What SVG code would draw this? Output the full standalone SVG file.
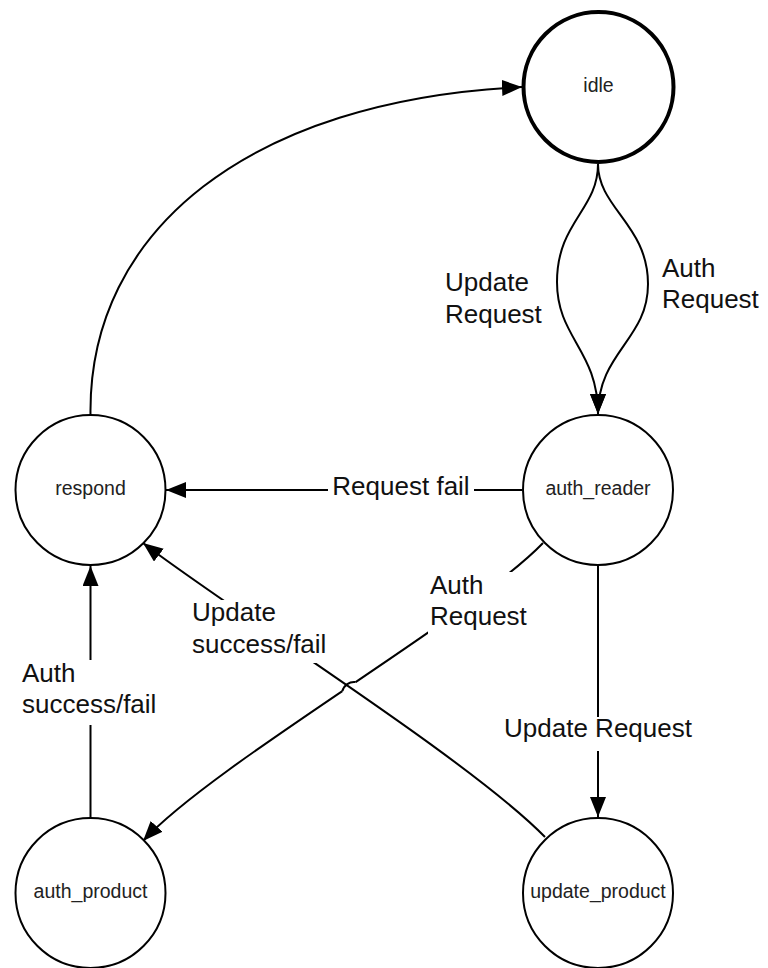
<svg xmlns="http://www.w3.org/2000/svg" width="768" height="968" viewBox="0 0 768 968">
  <style>
    .state { fill: #ffffff; stroke: #000000; stroke-width: 2; }
    .start { stroke-width: 4; }
    .name { font-family: "Liberation Sans", Arial, sans-serif; font-size: 19.5px; fill: #222222; text-anchor: middle; }
    .edge { fill: none; stroke: #000000; stroke-width: 2; }
    .label { font-family: "Liberation Sans", Arial, sans-serif; font-size: 26px; fill: #111111; }
    .gap { fill: #ffffff; stroke: none; }
  </style>
  <defs>
    <marker id="arrow" markerUnits="userSpaceOnUse" markerWidth="22" markerHeight="18" refX="20" refY="8" orient="auto">
      <path d="M0,0 L20,8 L0,16 Z" fill="#000000"/>
    </marker>
  </defs>

  <rect width="768" height="968" fill="#ffffff"/>

  <!-- transitions -->
  <g id="connectors">
    <!-- respond -> idle -->
    <path class="edge" d="M90.5,415 C88,230 250,100 522,87" marker-end="url(#arrow)"/>
    <!-- idle -> auth_reader (two parallel transitions) -->
    <path class="edge" d="M598,164 C598,210 557,222 557,282 C557,338 598,350 598,414" marker-end="url(#arrow)"/>
    <path class="edge" d="M598,164 C598,208 648,225 648,284 C648,340 598,352 598,414" marker-end="url(#arrow)"/>
    <!-- auth_reader -> respond -->
    <path class="edge" d="M522,490 L166,490" marker-end="url(#arrow)"/>
    <!-- auth_reader -> update_product -->
    <path class="edge" d="M598,566 L598,817" marker-end="url(#arrow)"/>
    <!-- auth_product -> respond -->
    <path class="edge" d="M90.5,817 L90.5,566" marker-end="url(#arrow)"/>
    <!-- auth_reader -> auth_product -->
    <path class="edge" d="M543,543 C473,616 215,763 143,841" marker-end="url(#arrow)"/>
    <!-- line jump where the two diagonals cross -->
    <path d="M355.6,682.1 L342.4,691.1" fill="none" stroke="#ffffff" stroke-width="5"/>
    <path class="edge" d="M355.6,682.1 A12,12 0 0 0 342.4,691.1"/>
    <!-- update_product -> respond -->
    <path class="edge" d="M545,837 C470,760 230,610 143,543" marker-end="url(#arrow)"/>
  </g>

  <!-- transition labels -->
  <g id="labels">
    <text class="label" x="445" y="291">Update<tspan x="445" y="323">Request</tspan></text>
    <text class="label" x="662" y="277">Auth<tspan x="662" y="308">Request</tspan></text>

    <rect class="gap" x="328" y="474" width="146" height="30"/>
    <text class="label" x="401" y="495" text-anchor="middle">Request fail</text>

    <rect class="gap" x="428" y="572" width="104" height="62"/>
    <text class="label" x="430" y="594">Auth<tspan x="430" y="625">Request</tspan></text>

    <rect class="gap" x="190" y="600" width="145" height="63"/>
    <text class="label" x="192" y="621">Update<tspan x="192" y="653">success/fail</tspan></text>

    <rect class="gap" x="20" y="660" width="145" height="65"/>
    <text class="label" x="22" y="682">Auth<tspan x="22" y="713">success/fail</tspan></text>

    <rect class="gap" x="500" y="717" width="197" height="34"/>
    <text class="label" x="598" y="737" text-anchor="middle">Update Request</text>
  </g>

  <!-- states -->
  <g id="idle">
    <circle class="state start" cx="598.5" cy="87" r="75"/>
    <text class="name" x="598.5" y="92">idle</text>
  </g>
  <g id="auth_reader">
    <circle class="state" cx="598" cy="490" r="75"/>
    <text class="name" x="598" y="495">auth_reader</text>
  </g>
  <g id="respond">
    <circle class="state" cx="90.5" cy="490" r="75"/>
    <text class="name" x="90.5" y="495">respond</text>
  </g>
  <g id="auth_product">
    <circle class="state" cx="90.5" cy="893" r="75"/>
    <text class="name" x="90.5" y="898">auth_product</text>
  </g>
  <g id="update_product">
    <circle class="state" cx="598" cy="893" r="75"/>
    <text class="name" x="598" y="898">update_product</text>
  </g>
</svg>
